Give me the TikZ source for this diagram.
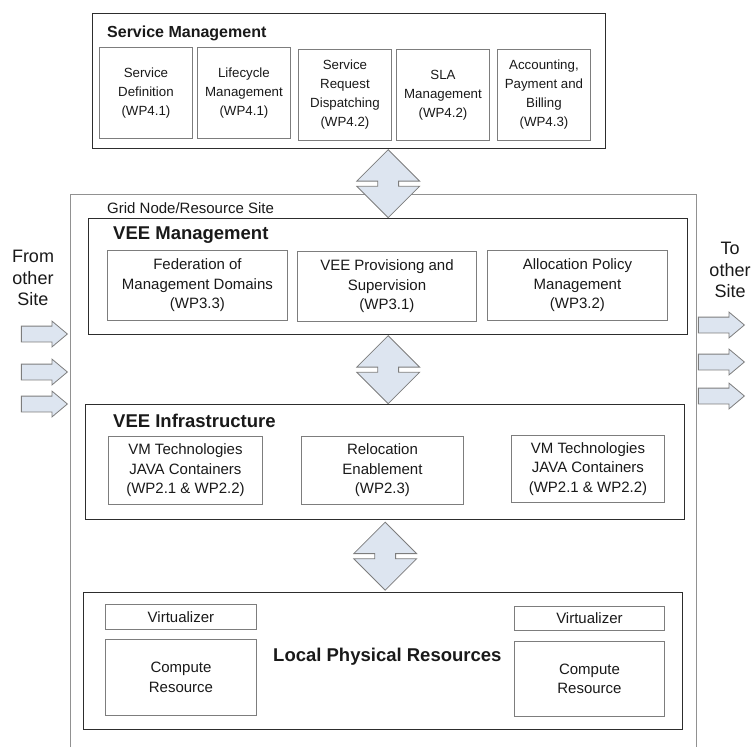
\documentclass[tikz,border=0pt]{standalone}
\usepackage{fontspec}
\setmainfont{Liberation Sans}
\usepackage{tikz}
\usepackage{xcolor}
\usetikzlibrary{shapes.arrows}

\definecolor{arrowfill}{RGB}{221,229,240}
\definecolor{boxline}{RGB}{125,125,125}
\definecolor{grpline}{RGB}{45,45,45}
\definecolor{gridline}{RGB}{145,145,145}

\begin{document}
\begin{tikzpicture}[x=1pt,y=-1pt,
            grp/.style={draw=grpline, line width=1.4pt, anchor=north west, inner sep=0pt},
            sub/.style={draw=boxline, line width=0.9pt, anchor=north west, inner sep=0pt, align=center, text=black!90, font=\fontsize{15}{19.5}\selectfont},
            smsub/.style={sub, minimum width=93pt, minimum height=91pt, font=\fontsize{13.3}{19}\selectfont},
            ttl/.style={anchor=west, inner sep=0pt, text=black!90, font=\fontsize{18.5}{22}\selectfont\bfseries},
            sidetxt/.style={align=center, inner sep=0pt, text=black!90, font=\fontsize{18}{21.5}\selectfont},
            updown/.style={double arrow, rotate=90, draw=boxline, fill=arrowfill, line width=0.8pt, inner xsep=0pt, inner ysep=10pt,
                           minimum height=68pt, minimum width=62pt, double arrow head extend=21pt},
            side/.style={single arrow, draw=boxline, fill=arrowfill, line width=0.8pt, inner xsep=0pt, inner ysep=7.5pt, anchor=tip,
                         minimum height=46pt, minimum width=25pt, single arrow head extend=5pt, single arrow tip angle=80}]
    \useasboundingbox (0,0) rectangle (751,747);

    % service management
    \node[grp, minimum width=513pt, minimum height=135pt] (sm) at (92,13) {};
    \node[ttl, font=\fontsize{16}{19}\selectfont\bfseries] (smttl) at (107,33) {Service Management};
    \node[smsub] (sdef) at (99,47) {Service\\Definition\\(WP4.1)};
    \node[smsub] (life) at (197,47) {Lifecycle\\Management\\(WP4.1)};
    \node[smsub] (srd) at (298,49) {Service\\Request\\Dispatching\\(WP4.2)};
    \node[smsub] (sla) at (396,49) {SLA\\Management\\(WP4.2)};
    \node[smsub] (acct) at (497,49) {Accounting,\\Payment and\\Billing\\(WP4.3)};

    % grid node
    \draw[draw=gridline, line width=1pt] (70,747) |- (696,194) -- (696,747);
    \node[anchor=west, inner sep=0pt, text=black!90, font=\fontsize{15}{18}\selectfont] (gridlbl) at (107,208) {Grid Node/Resource Site};

    \node[grp, minimum width=599pt, minimum height=116pt] (veem) at (88,218) {};
    \node[ttl] (veemttl) at (113,235) {VEE Management};
    \node[sub, minimum width=180pt, minimum height=70pt] (fed) at (107,250) {Federation of\\Management Domains\\(WP3.3)};
    \node[sub, minimum width=179pt, minimum height=70pt] (prov) at (297,251) {VEE Provisiong and\\Supervision\\(WP3.1)};
    \node[sub, minimum width=180pt, minimum height=70pt] (alloc) at (487,250) {Allocation Policy\\Management\\(WP3.2)};

    \node[grp, minimum width=599pt, minimum height=115pt] (veei) at (85,404) {};
    \node[ttl] (veeittl) at (113,421) {VEE Infrastructure};
    \node[sub, minimum width=154pt, minimum height=68pt] (vmA) at (108,436) {VM Technologies\\JAVA Containers\\(WP2.1 \& WP2.2)};
    \node[sub, minimum width=162pt, minimum height=68pt] (reloc) at (301,436) {Relocation\\Enablement\\(WP2.3)};
    \node[sub, minimum width=153pt, minimum height=67pt] (vmB) at (511,435) {VM Technologies\\JAVA Containers\\(WP2.1 \& WP2.2)};

    \node[grp, minimum width=599pt, minimum height=137pt] (lpr) at (83,592) {};
    \node[ttl] (lprttl) at (273,657) {Local Physical Resources};
    \node[sub, minimum width=151pt, minimum height=25pt] (virtA) at (105,604) {Virtualizer};
    \node[sub, minimum width=151pt, minimum height=76pt] (compA) at (105,639) {Compute\\Resource};
    \node[sub, minimum width=150pt, minimum height=24pt] (virtB) at (514,606) {Virtualizer};
    \node[sub, minimum width=150pt, minimum height=75pt] (compB) at (514,641) {Compute\\Resource};

    % arrows between layers
    \path (veem.north |- sm.south) -- node[updown] (upA) {} (veem.north);
    \path (veem.south) -- node[updown] (upB) {} (veem.south |- veei.north);
    \path (veei.south) -- node[updown] (upC) {} (veei.south |- lpr.north);

    % other sites
    \node[sidetxt] (from) at (33,278) {From\\other\\Site};
    \node[sidetxt] (to) at (730,270) {To\\other\\Site};
    \foreach \y [count=\i] in {334,372,404}
        \node[side] (in\i) at (68,\y) {};
    \foreach \y [count=\i] in {325,362,396}
        \node[side] (out\i) at (745,\y) {};
\end{tikzpicture}
\end{document}
